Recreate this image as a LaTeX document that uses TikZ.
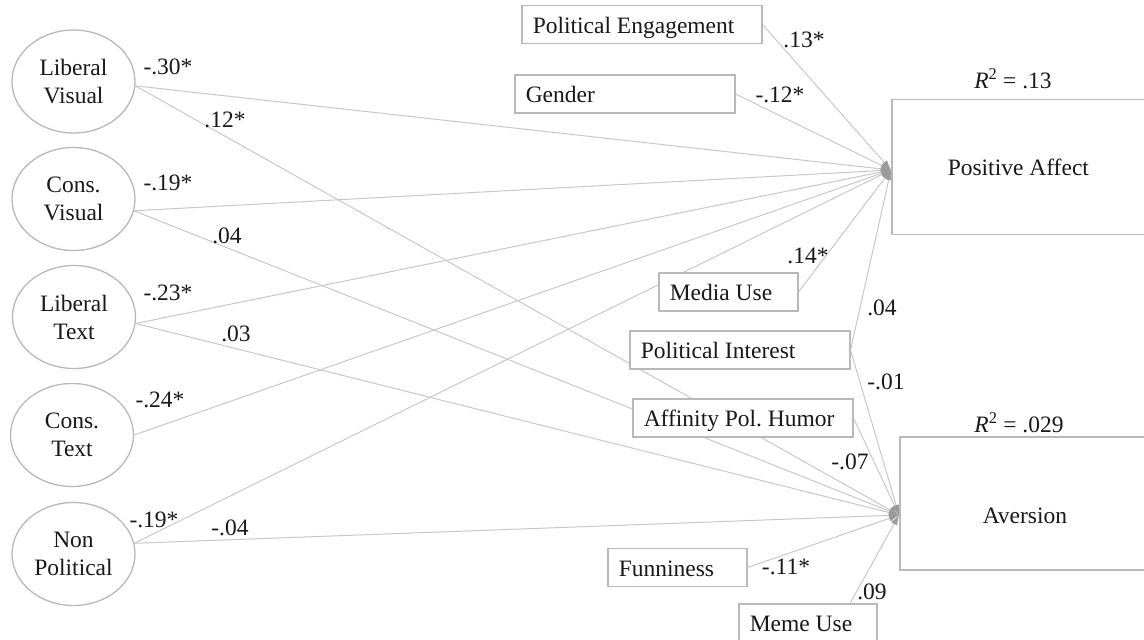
\documentclass[tikz,border=0pt]{standalone}
\usepackage{fontspec}
\setmainfont{Liberation Serif}
\usetikzlibrary{arrows.meta,shapes.geometric,backgrounds,calc}

\definecolor{edgegray}{RGB}{200,200,200}
\definecolor{framegray}{RGB}{185,185,185}
\definecolor{tipgray}{RGB}{155,155,155}
\definecolor{ink}{RGB}{25,25,25}

\tikzset{
  base/.style={font=\fontsize{23.5pt}{28pt}\selectfont\frenchspacing, text=ink},
  latent/.style={base, ellipse, draw=framegray, line width=1.3pt, fill=white,
    minimum width=123pt, minimum height=103pt, inner sep=0pt, align=center},
  obs/.style={base, rectangle, draw=framegray, line width=1.5pt, fill=white,
    anchor=west, minimum height=38pt, inner xsep=11pt, inner ysep=0pt,
    text width=#1, align=flush left, text height=19pt, text depth=2pt},
  outcome/.style={base, rectangle, draw=framegray, line width=1.5pt, fill=white,
    anchor=west, inner ysep=0pt, text width=200pt, align=flush left, text depth=2pt},
  coef/.style={base, inner sep=0pt},
  link/.style={draw=edgegray, line width=1pt,
    -{Latex[length=10pt,width=7pt,color=tipgray]}},
}

\begin{document}
\begin{tikzpicture}[x=1pt,y=-1pt]
\useasboundingbox (0,0) rectangle (1144,640);

% exogenous latent variables
\node[latent] (lv) at (73.5,81.5) {Liberal\\Visual};
\node[latent] (cv) at (73.5,199) {Cons.\\Visual};
\node[latent] (lt) at (74,317) {Liberal\\Text};
\node[latent] (ct) at (72,435) {Cons.\\Text};
\node[latent] (np) at (73.5,554) {Non\\Political};

% observed covariates
\node[obs=218pt] (pe) at (521,24.5) {Political Engagement};
\node[obs=198pt] (gd) at (514,94) {Gender};
\node[obs=117pt] (mu) at (658,292) {Media Use};
\node[obs=198pt] (pi) at (629,350) {Political Interest};
\node[obs=198pt] (ap) at (632,418) {\mbox{Affinity Pol. Humor}};
\node[obs=117pt] (fn) at (607,567.5) {Funniness};
\node[obs=116pt] (mm) at (738,623) {Meme Use};

% outcomes
\node[outcome, inner xsep=56pt, minimum height=135pt, text height=19pt] (pa) at (891,167) {Positive Affect};
\node[outcome, inner xsep=83pt, minimum height=133pt, text height=41pt] (av) at (899,503.5) {Aversion};
\node[coef] (r1) at (1013,79) {\textit{R}\textsuperscript{2} = .13};
\node[coef] (r2) at (1019,423) {\textit{R}\textsuperscript{2} = .029};

\coordinate (paIn) at ($(pa.west)+(0,3)$);
\coordinate (avIn) at ($(av.west)+(0,11.5)$);

% regression paths
\begin{pgfonlayer}{background}
\draw[link] (lv.-4) -- (paIn);
\draw[link] (lv.-4) -- (avIn);
\draw[link] (cv.-11) -- (paIn);
\draw[link] (cv.-11) -- (avIn);
\draw[link] (lt.-6) -- (paIn);
\draw[link] (lt.-6) -- (avIn);
\draw[link] (ct.east) -- (paIn);
\draw[link] (np.10) -- (paIn);
\draw[link] (np.10) -- (avIn);
\draw[link] (pe.east) -- (paIn);
\draw[link] (gd.east) -- (paIn);
\draw[link] (mu.east) -- (paIn);
\draw[link] (pi.east) -- (paIn);
\draw[link] (pi.east) -- (avIn);
\draw[link] (ap.east) -- (avIn);
\draw[link] (fn.east) -- (avIn);
\draw[link] (mm.25) -- (avIn);
\end{pgfonlayer}

% path coefficients
\node[coef] (k1) at (168,67) {-.30*};
\node[coef] (k2) at (225,120) {.12*};
\node[coef] (k3) at (168,183) {-.19*};
\node[coef] (k4) at (227,236) {.04};
\node[coef] (k5) at (168,293) {-.23*};
\node[coef] (k6) at (236,334) {.03};
\node[coef] (k7) at (160,400) {-.24*};
\node[coef] (k8) at (154,520) {-.19*};
\node[coef] (k9) at (230,528) {-.04};
\node[coef] (k10) at (804,40) {.13*};
\node[coef] (k11) at (780,95) {-.12*};
\node[coef] (k12) at (808,256) {.14*};
\node[coef] (k13) at (882,308) {.04};
\node[coef] (k14) at (886,382) {-.01};
\node[coef] (k15) at (850,462) {-.07};
\node[coef] (k16) at (786,567) {-.11*};
\node[coef] (k17) at (872,592) {.09};
\end{tikzpicture}
\end{document}
